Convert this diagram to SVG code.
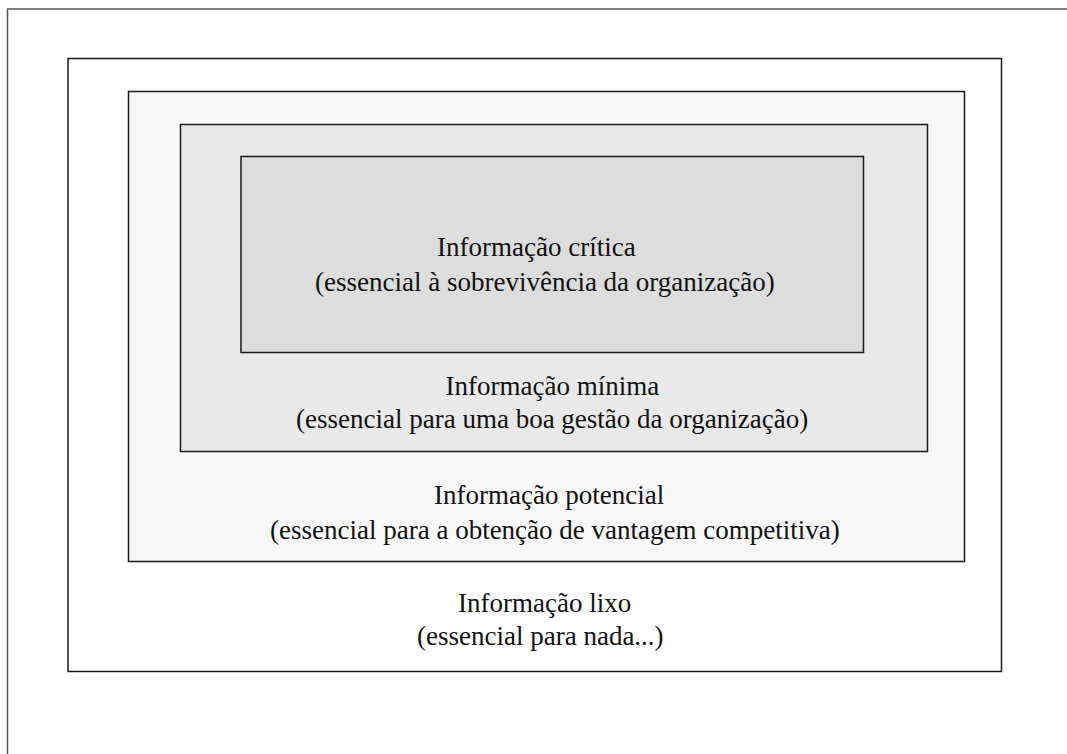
<svg xmlns="http://www.w3.org/2000/svg" width="1067" height="754" viewBox="0 0 1067 754">
<style>
.box{stroke:#1a1a1a;stroke-width:1.5}
.t{font-family:"Liberation Serif","Times New Roman",serif;font-size:27px;fill:#111}
</style>
<rect width="1067" height="754" fill="#fff"/>
<g id="page">
<path d="M7.5,754 V9 H1067" fill="none" stroke="#555" stroke-width="1.5"/>
</g>
<g id="lixo">
<rect class="box" x="68" y="58.5" width="933.5" height="613" fill="#fff"/>
<text class="t" x="458" y="612">Informação lixo</text>
<text class="t" x="417" y="645">(essencial para nada...)</text>
</g>
<g id="potencial">
<rect class="box" x="128.5" y="91.5" width="836" height="470" fill="#f8f8f8"/>
<text class="t" x="434" y="504">Informação potencial</text>
<text class="t" x="270" y="539">(essencial para a obtenção de vantagem competitiva)</text>
</g>
<g id="minima">
<rect class="box" x="180.5" y="124.5" width="747" height="327" fill="#e9e9e9"/>
<text class="t" x="445.5" y="395">Informação mínima</text>
<text class="t" x="296" y="428">(essencial para uma boa gestão da organização)</text>
</g>
<g id="critica">
<rect class="box" x="241" y="156.5" width="622.5" height="196" fill="#dddddd"/>
<text class="t" x="437" y="256">Informação crítica</text>
<text class="t" x="315" y="291">(essencial à sobrevivência da organização)</text>
</g>
<g id="connectors"></g>
</svg>
